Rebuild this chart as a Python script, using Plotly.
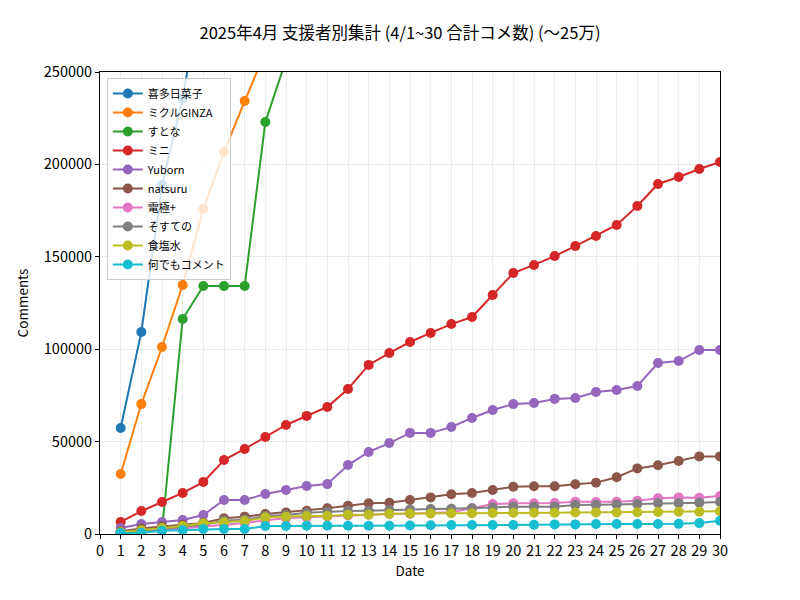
import plotly.graph_objects as go

days = list(range(1, 31))

names = ["喜多日菜子", "ミクルGINZA", "すとな", "ミニ", "Yuborn", "natsuru",
         "電極+", "そすての", "食塩水", "何でもコメント"]
colors = ["#1f77b4", "#ff7f0e", "#2ca02c", "#d62728", "#9467bd", "#8c564b",
          "#e377c2", "#7f7f7f", "#bcbd22", "#17becf"]

kita = [57400, 109300, 188900, 235700, 301000, 352000, 398000, 441000, 487000, 530000,
        571000, 615000, 660000, 702000, 745000, 788000, 829000, 870000, 915000, 958000,
        1000000, 1041000, 1083000, 1126000, 1170000, 1212000, 1255000, 1296000, 1338000, 1380000]
mikuru = [32500, 70300, 101200, 134700, 175900, 206700, 234300, 262000, 290000, 318000,
          345000, 372000, 398000, 425000, 451000, 478000, 504000, 530000, 556000, 582000,
          608000, 634000, 660000, 686000, 711000, 737000, 763000, 789000, 814000, 840000]
sutona = [1000, 1500, 2000, 116300, 134200, 134200, 134200, 222900, 258000, 290000,
          320000, 350000, 381000, 410000, 440000, 470000, 500000, 530000, 560000, 590000,
          620000, 650000, 680000, 710000, 740000, 770000, 800000, 830000, 860000, 890000]
mini = [6500, 12400, 17300, 22200, 28100, 40000, 46000, 52500, 59000, 63900,
        68700, 78500, 91500, 97900, 103900, 108800, 113600, 117400, 129300, 141200,
        145600, 150400, 155800, 161300, 167200, 177500, 189400, 193200, 197500, 201300]
yuborn = [3200, 5400, 6500, 7600, 10300, 18400, 18400, 21600, 23800, 26000,
          27000, 37300, 44400, 49200, 54700, 54700, 57900, 62800, 67100, 70300,
          70900, 73100, 73600, 76800, 77900, 80100, 92500, 93600, 99600, 99600]
natsuru = [1500, 3000, 4000, 5000, 6000, 8500, 9400, 10800, 11700, 12600,
           13900, 15300, 16600, 16900, 18400, 19800, 21500, 22200, 23800, 25600,
           25800, 25800, 26900, 27800, 30700, 35500, 37200, 39500, 42000, 42000]
denkyoku = [500, 1200, 2000, 3000, 4000, 5000, 6000, 7500, 8500, 9000,
            9500, 10000, 10500, 10800, 11000, 11300, 11800, 13900, 16200, 16600,
            16600, 16800, 17500, 17300, 17500, 18000, 19300, 19800, 19600, 20500]
sosute = [800, 1800, 2800, 3800, 5000, 7200, 7800, 9700, 10300, 11500,
          12100, 12400, 12600, 13000, 13200, 13500, 13700, 13900, 14300, 14800,
          14800, 14800, 15700, 15700, 16000, 16200, 16600, 16600, 16900, 17300]
shokuen = [1000, 2000, 3200, 4300, 5800, 6300, 7000, 9000, 9400, 9700,
           9700, 10400, 10400, 11000, 11100, 11100, 11200, 11200, 11400, 11500,
           11500, 11500, 11600, 11700, 11700, 11800, 11900, 12000, 12000, 12300]
nandemo = [500, 700, 1800, 2200, 2700, 2700, 2700, 4300, 4300, 4500,
           4500, 4500, 4500, 4500, 4600, 4700, 4900, 4900, 4900, 4900,
           5000, 5200, 5200, 5400, 5400, 5400, 5400, 5500, 5900, 7200]

series = [kita, mikuru, sutona, mini, yuborn, natsuru, denkyoku, sosute, shokuen, nandemo]

x_ticks = list(range(0, 31))
y_ticks = [0, 50000, 100000, 150000, 200000, 250000]

FONT = "Noto Sans CJK JP"

fig = go.Figure()
for name, color, vals in zip(names, colors, series):
    fig.add_trace(go.Scatter(
        x=days, y=vals, name=name, mode="lines+markers",
        line=dict(color=color, width=2),
        marker=dict(color=color, size=10),
    ))

axis_common = dict(
    showline=True, linecolor="black", linewidth=1, mirror=True,
    ticks="outside", ticklen=4, tickwidth=1, tickcolor="black",
    showgrid=True, gridcolor="#ebebeb", gridwidth=1, zeroline=False,
    tickfont=dict(family=FONT, size=14.5, color="black"),
)

fig.update_layout(
    width=800, height=600,
    margin=dict(l=100, r=80, t=72, b=66),
    paper_bgcolor="white", plot_bgcolor="white",
    font=dict(family=FONT, color="black"),
    title=dict(text="2025年4月 支援者別集計 (4/1~30 合計コメ数) (〜25万)",
               x=0.5, xanchor="center", y=0.945, yanchor="middle",
               font=dict(family=FONT, size=16.5, color="black")),
    xaxis=dict(range=[0, 30], tickvals=x_ticks,
               title=dict(text="Date", font=dict(size=13.5), standoff=5),
               **axis_common),
    yaxis=dict(range=[0, 250000], tickvals=y_ticks, tickformat="d",
               title=dict(text="Comments", font=dict(size=13.5), standoff=12),
               **axis_common),
    legend=dict(x=0.011, y=0.987, xanchor="left", yanchor="top",
                bgcolor="rgba(255,255,255,0.8)", bordercolor="#cccccc", borderwidth=1,
                font=dict(family=FONT, size=11), itemwidth=30, tracegroupgap=0),
    showlegend=True,
)

fig.write_html("out.html")
